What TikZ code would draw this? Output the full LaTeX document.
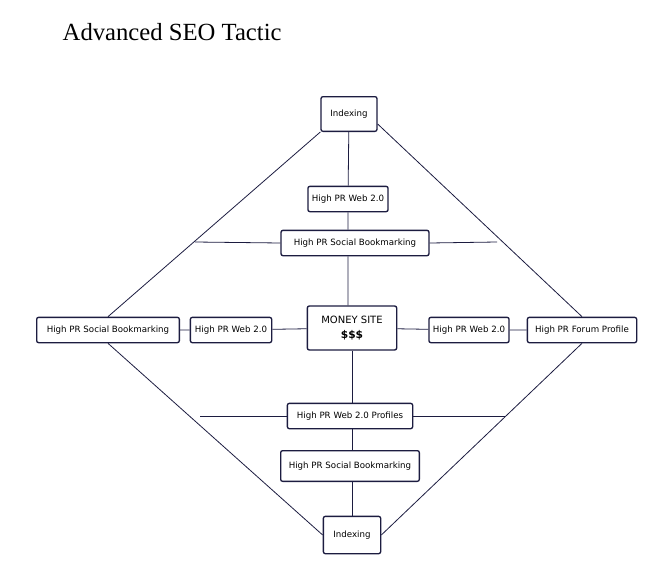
\documentclass[tikz,border=0pt]{standalone}
\usepackage{fontspec}
\setmainfont{Liberation Serif}
\setsansfont{DejaVu Sans}
\usetikzlibrary{positioning}
\definecolor{navy}{HTML}{1C1C40}
\begin{document}
\begin{tikzpicture}[x=0.75pt,y=-0.75pt]
    \tikzstyle{box}=[draw=navy,line width=1pt,fill=white,rounded corners=1.5pt,inner sep=3pt,
      font=\sffamily\fontsize{6.5}{8}\selectfont,minimum height=19pt]
    \tikzstyle{link}=[navy,line width=0.6pt]
    \useasboundingbox (0,0) rectangle (661,571);
    \node[anchor=west,font=\fontsize{18.5}{22}\selectfont] (title) at (58,32) {Advanced SEO Tactic};

    \node[box,minimum width=42pt,minimum height=26pt] (topidx) at (349,114) {Indexing};
    \node[box,minimum width=56pt] (topweb) at (348,199) {High PR Web 2.0};
    \node[box,minimum width=111pt] (topsb) at (355,243) {High PR Social Bookmarking};
    \node[box,minimum width=107pt] (leftsb) at (108,330) {High PR Social Bookmarking};
    \node[box,minimum width=61pt] (leftweb) at (231,330) {High PR Web 2.0};
    \node[box,minimum width=67pt,minimum height=33pt,align=center] (money) at (352,328)
      {\fontsize{7.5}{9}\selectfont MONEY SITE\\[3pt]\fontsize{8}{9}\selectfont\textbf{\$\$\$}};
    \node[box,minimum width=60pt] (rightweb) at (469,330) {High PR Web 2.0};
    \node[box,minimum width=82pt] (forum) at (582,330) {High PR Forum Profile};
    \node[box,minimum width=94pt] (prof) at (350,416) {High PR Web 2.0 Profiles};
    \node[box,minimum width=104pt,minimum height=23pt] (botsb) at (350,466) {High PR Social Bookmarking};
    \node[box,minimum width=43pt,minimum height=28pt] (botidx) at (352,535) {Indexing};

    \coordinate (sbl) at (195,242);
    \coordinate (sbr) at (497,242);
    \coordinate (pfl) at (200,416);
    \coordinate (pfr) at (505,416);

    \draw[link] (topidx.south west) -- (leftsb.north) ([yshift=-7.5pt]topidx.east) -- (forum.north);
    \draw[link] (leftsb.south) -- (botidx.west) (forum.south) -- (botidx.east);
    \draw[link] (topidx) -- (topweb) (topweb.south) -- (topsb.north -| topweb.south)
      (topsb.south -| topweb.south) -- (money.north -| topweb.south);
    \draw[link] (sbl) -- (topsb.west) (topsb.east) -- (sbr);
    \draw[link] (pfl) -- (prof.west) (prof.east) -- (pfr);
    \draw[link] (leftsb) -- (leftweb) (leftweb) -- (money) (money) -- (rightweb) (rightweb) -- (forum);
    \draw[link] (money.south) -- (prof.north -| money.south) (prof.south -| money.south) -- (botsb.north -| money.south)
      (botsb.south -| money.south) -- (botidx.north -| money.south);
\end{tikzpicture}
\end{document}
